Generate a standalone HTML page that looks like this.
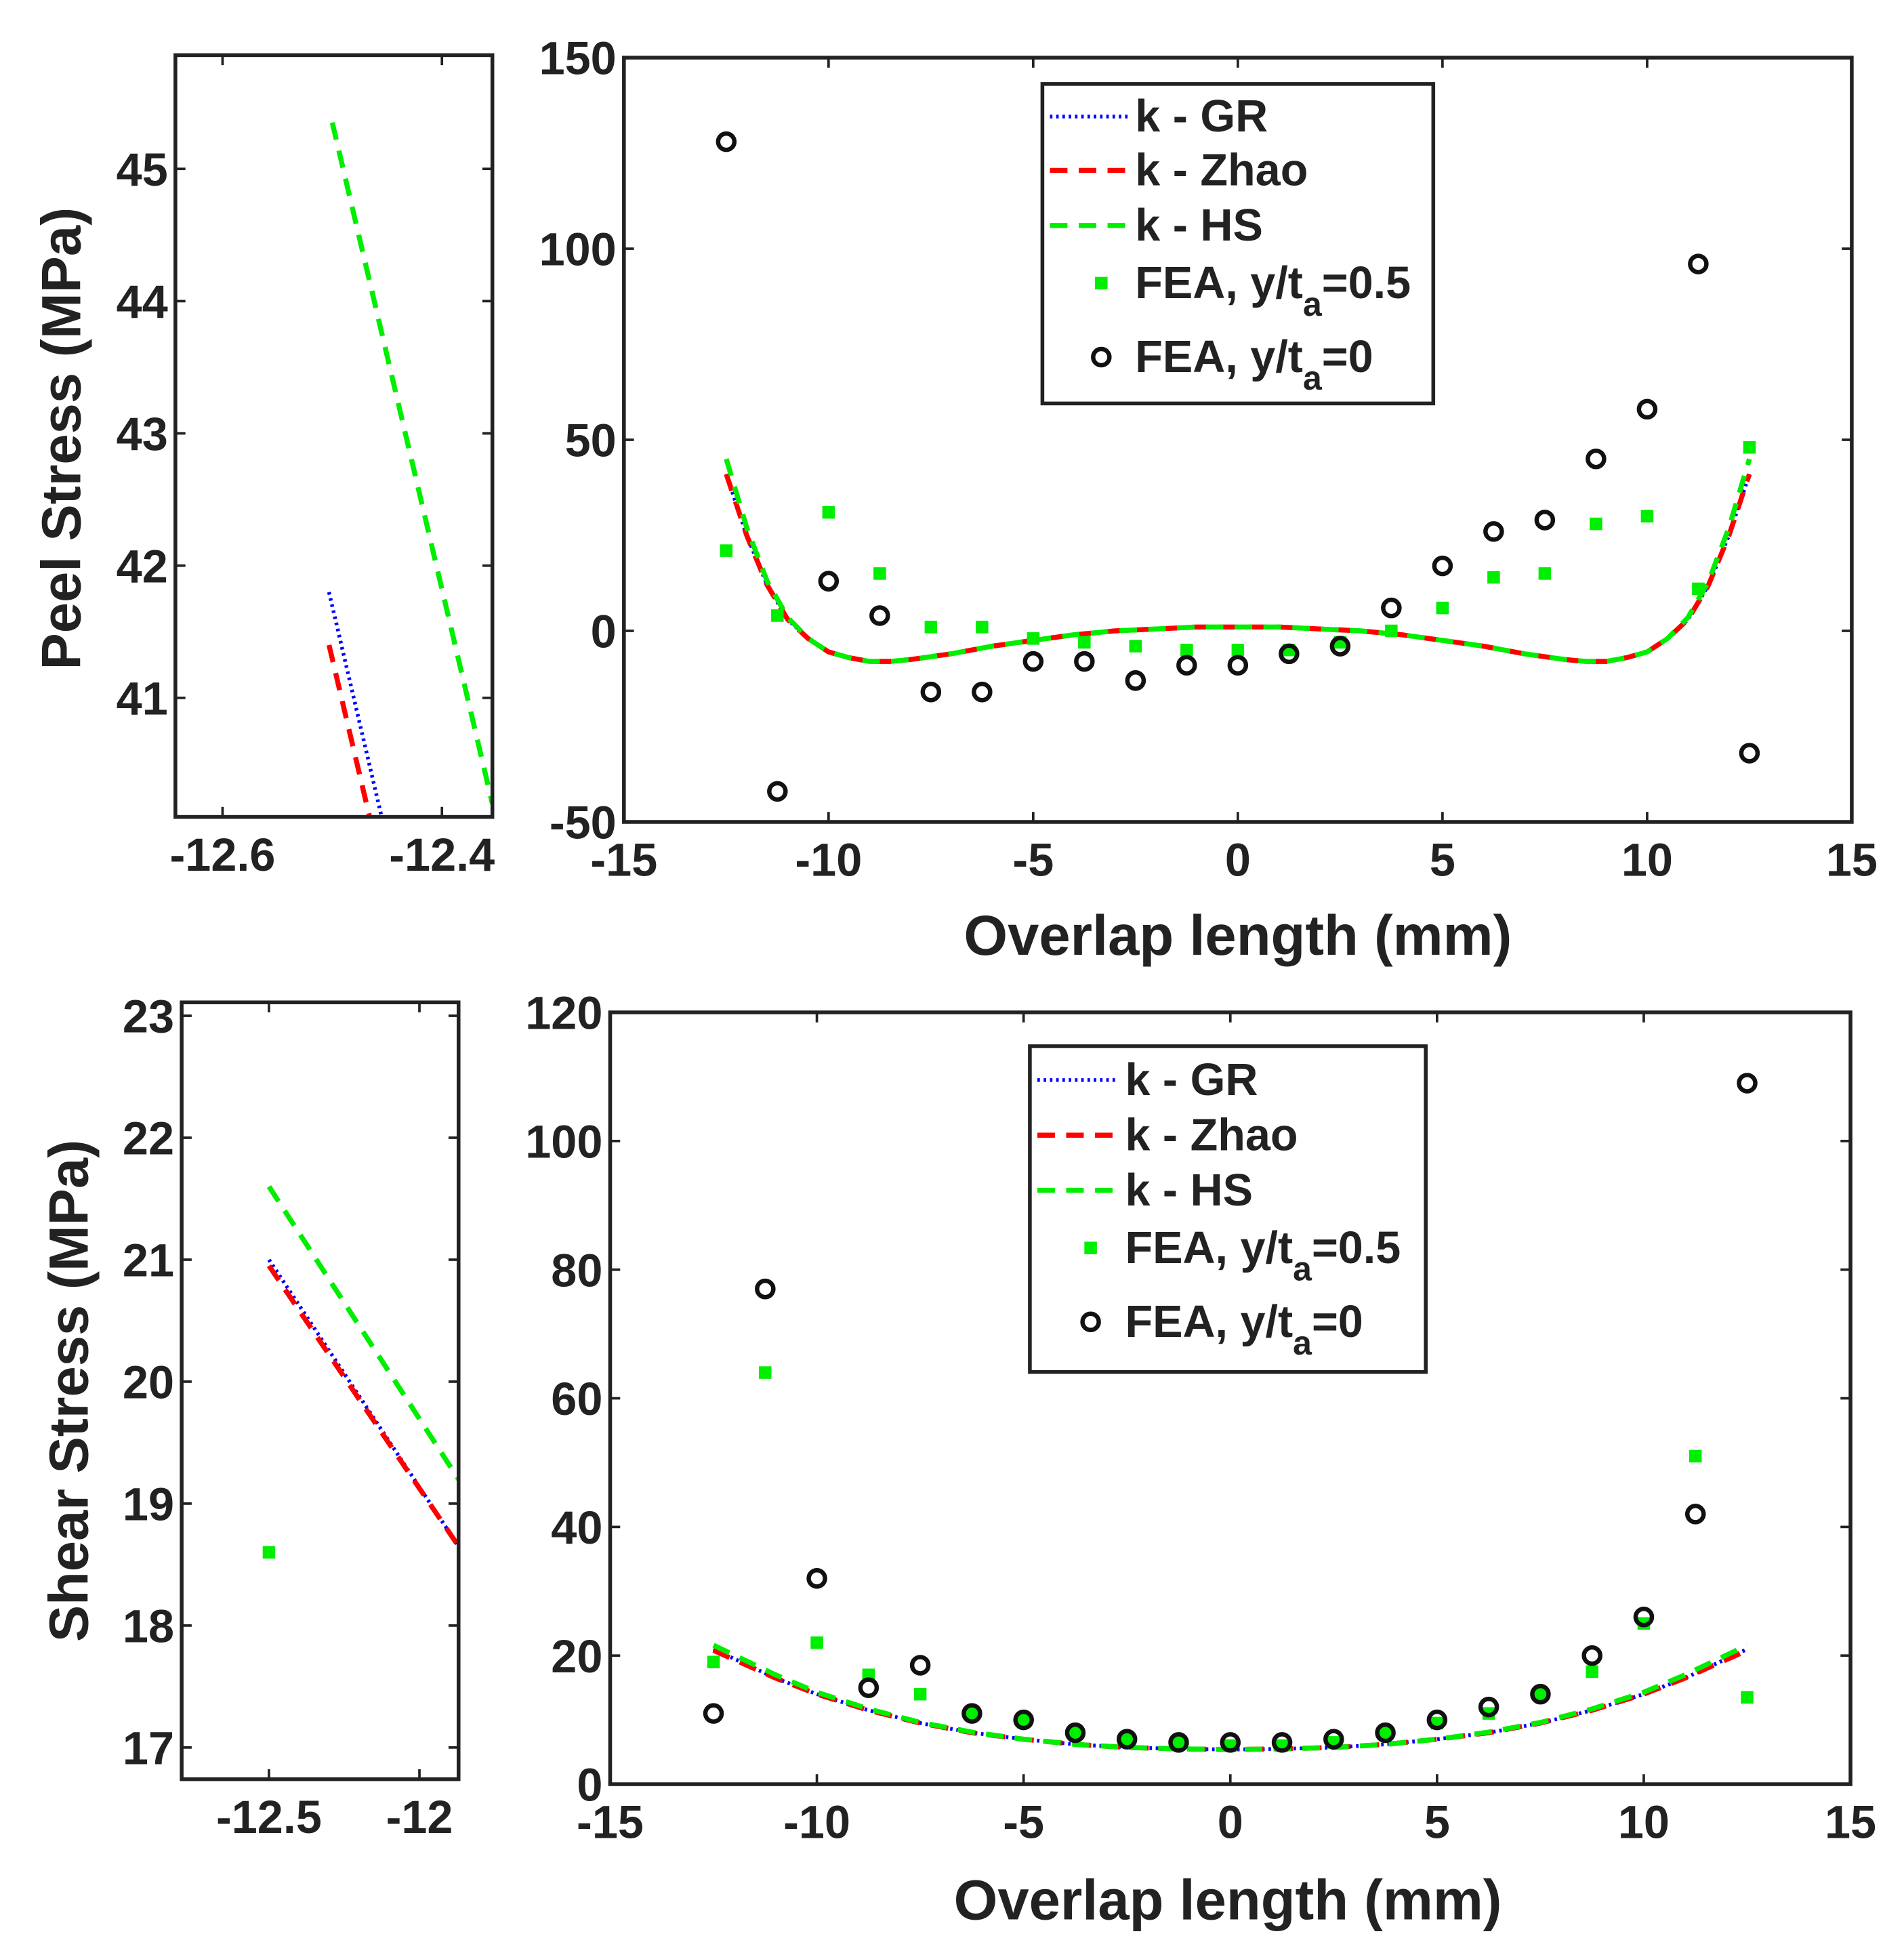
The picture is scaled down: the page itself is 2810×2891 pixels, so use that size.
<!DOCTYPE html>
<html><head><meta charset="utf-8"><style>
html,body{margin:0;padding:0;background:#fff;}
svg{display:block;font-family:"Liberation Sans",Arial,sans-serif;font-weight:bold;}
</style></head><body>
<svg id="fig" width="2810" height="2891" viewBox="0 0 1519.7 1563.5" xmlns="http://www.w3.org/2000/svg"></svg>
<script>
// ---------- data ----------
const feaX = [-12.5,-11.25,-10,-8.75,-7.5,-6.25,-5,-3.75,-2.5,-1.25,0,1.25,2.5,3.75,5,6.25,7.5,8.75,10,11.25,12.5];
const peelFea0 = [128,-42,13,4,-16,-16,-8,-8,-13,-9,-9,-6,-4,6,17,26,29,45,58,96,-32];
const peelFea05 = [21,4,31,15,1,1,-2,-3,-4,-5,-5,-5,-3,0,6,14,15,28,30,11,48];
const curveX = [-12.5,-12,-11.5,-11,-10.5,-10,-9.5,-9,-8.5,-8,-7,-6,-5,-4,-3,-2,-1,0,1,2,3,4,5,6,7,8,8.5,9,9.5,10,10.5,11,11.5,12,12.5];
const peelGR = [41,25,12,3,-2,-5.5,-7,-8,-8,-7.5,-6,-4,-2.5,-1,0,0.5,1,1,1,0.5,0,-1,-2.5,-4,-6,-7.5,-8,-8,-7,-5.5,-2,3,12,25,41];
const peelZhao = [41,25,12,3,-2,-5.5,-7,-8,-8,-7.5,-6,-4,-2.5,-1,0,0.5,1,1,1,0.5,0,-1,-2.5,-4,-6,-7.5,-8,-8,-7,-5.5,-2,3,12,25,41];
const peelHS = [45,27,13,3.5,-2,-5.5,-7,-8,-8,-7.5,-6,-4,-2.5,-1,0,0.5,1,1,1,0.5,0,-1,-2.5,-4,-6,-7.5,-8,-8,-7,-5.5,-2,3.5,13,27,45];
const shearFea0 = [11,77,32,15,18.5,11,10,8,7,6.5,6.5,6.5,7,8,10,12,14,20,26,42,109];
const shearFea05 = [19,64,22,17,14,11,10,8,7,6.5,6,6,6.5,8,9.5,11,14,17.5,25,51,13.5];
const shearCurveX = [-12.5,-11,-10,-8.75,-7.5,-6.25,-5,-3.75,-2.5,-1.25,0,1.25,2.5,3.75,5,6.25,7.5,8.75,10,11,12.5];
const shearGR = [21,16.5,14,11.5,9.5,8,7,6.2,5.7,5.5,5.4,5.5,5.7,6.2,7,8,9.5,11.5,14,16.5,21];
const shearZhao = [20.8,16.5,14,11.5,9.5,8,7,6.2,5.7,5.5,5.4,5.5,5.7,6.2,7,8,9.5,11.5,14,16.5,20.8];
const shearHS = [21.6,17,14.3,11.7,9.6,8.1,7,6.2,5.7,5.5,5.4,5.5,5.7,6.2,7,8.1,9.6,11.7,14.3,17,21.6];
// insets
const peelInsetGRx = [-12.503,-12.455]; const peelInsetGRy = [41.8,40.1];
const peelInsetZhaox = [-12.503,-12.466]; const peelInsetZhaoy = [41.4,40.1];
const peelInsetHSx = [-12.5,-12.354]; const peelInsetHSy = [45.35,40.2];
const shearInsetGRx = [-12.5,-11.87]; const shearInsetGRy = [21.0,18.65];
const shearInsetZhaox = [-12.5,-11.87]; const shearInsetZhaoy = [20.95,18.65];
const shearInsetHSx = [-12.5,-11.87]; const shearInsetHSy = [21.6,19.2];
const shearInsetFeaX = [-12.5]; const shearInsetFeaY = [18.6];
const mainXTicks = [-15,-10,-5,0,5,10,15];
const peelYTicks = [-50,0,50,100,150];
const shearYTicks = [0,20,40,60,80,100,120];
const peelInsetXTicks = [-12.6,-12.4];
const peelInsetYTicks = [41,42,43,44,45];
const shearInsetXTicks = [-12.5,-12];
const shearInsetYTicks = [17,18,19,20,21,22,23];

const NS = "http://www.w3.org/2000/svg";
const svg = document.getElementById('fig');
function mk(tag, attrs, parent){const e=document.createElementNS(NS,tag);for(const k in attrs)e.setAttribute(k,attrs[k]);(parent||svg).appendChild(e);return e;}

const STY = {
  gr:{stroke:'#0000ff','stroke-width':3,'stroke-dasharray':'2 3'},
  zhao:{stroke:'#ff0000','stroke-width':4,'stroke-dasharray':'14 9'},
  hs:{stroke:'#00ee00','stroke-width':4,'stroke-dasharray':'14 9'}
};
const FS = 37;

function axes(name, box, xr, yr, xt, yt, fs){
  const g = mk('g',{});
  
  
  const sx = v => box.x0 + (v - xr[0])/(xr[1]-xr[0])*(box.x1-box.x0);
  const sy = v => box.y1 - (v - yr[0])/(yr[1]-yr[0])*(box.y1-box.y0);
  const clip = mk('clipPath',{id:name+'-clip'},g);
  mk('rect',{x:box.x0,y:box.y0,width:box.x1-box.x0,height:box.y1-box.y0},clip);
  xt.forEach(v=>{
    const x=sx(v);
    mk('line',{x1:x,x2:x,y1:box.y1,y2:box.y1-8,stroke:'#222','stroke-width':2},g);
    mk('line',{x1:x,x2:x,y1:box.y0,y2:box.y0+8,stroke:'#222','stroke-width':2},g);
    const t=mk('text',{x:x,y:box.y1+fs+6,'text-anchor':'middle','font-size':fs,fill:'#222'},g);
    
    
    t.textContent = String(v);
  });
  yt.forEach(v=>{
    const y=sy(v);
    mk('line',{x1:box.x0,x2:box.x0+8,y1:y,y2:y,stroke:'#222','stroke-width':2},g);
    mk('line',{x1:box.x1,x2:box.x1-8,y1:y,y2:y,stroke:'#222','stroke-width':2},g);
    const t=mk('text',{x:box.x0-6,y:y+fs*0.36,'text-anchor':'end','font-size':fs,fill:'#222'},g);
    
    
    t.textContent = String(v);
  });
  const plot = mk('g',{'clip-path':'url(#'+name+'-clip)'},g);
  mk('rect',{x:box.x0,y:box.y0,width:box.x1-box.x0,height:box.y1-box.y0,fill:'none',stroke:'#222','stroke-width':3},g);
  return {g,plot,sx,sy};
}
function line(ax, xs, ys, sty, name){
  const d = xs.map((x,i)=>(i?'L':'M')+ax.sx(x).toFixed(1)+' '+ax.sy(ys[i]).toFixed(1)).join(' ');
  const p = mk('path',Object.assign({d:d,fill:'none','stroke-linecap':'butt'},sty),ax.plot);
  
  
}
function squares(ax, xs, ys, name){
  xs.forEach((x,i)=>{
    const r = mk('rect',{x:ax.sx(x)-5,y:ax.sy(ys[i])-5,width:10,height:10,fill:'#00ee00'},ax.plot);
    
    
  });
}
function circles(ax, xs, ys, name){
  xs.forEach((x,i)=>{
    const c = mk('circle',{cx:ax.sx(x),cy:ax.sy(ys[i]),r:6.5,fill:'none',stroke:'#111','stroke-width':3.5},ax.plot);
    
    
  });
}
function label(x,y,txt,fs,rot,name){
  const t = mk('text',{x:x,y:y,'text-anchor':'middle','font-size':fs,fill:'#222',transform:rot?`rotate(-90 ${x} ${y})`:''});
  
  
  t.textContent = txt;
}
function legend(box, rows, lx0, lx1, tx, name){
  const g = mk('g',{});
  
  
  mk('rect',{x:box.x0,y:box.y0,width:box.x1-box.x0,height:box.y1-box.y0,fill:'#fff',stroke:'#222','stroke-width':3},g);
  const items = [['gr','k - GR'],['zhao','k - Zhao'],['hs','k - HS'],['sq','FEA, y/t','=0.5'],['ci','FEA, y/t','=0']];
  items.forEach((it,i)=>{
    const y = rows[i];
    const mid=(lx0+lx1)/2;
    if(STY[it[0]]) mk('line',Object.assign({x1:lx0,x2:lx1,y1:y,y2:y},STY[it[0]]),g);
    else if(it[0]==='sq') mk('rect',{x:mid+5,y:y-5,width:10,height:10,fill:'#00ee00'},g);
    else mk('circle',{cx:mid+10,cy:y,r:6.5,fill:'none',stroke:'#111','stroke-width':3.5},g);
    const t = mk('text',{x:tx,y:y+12,'font-size':36,fill:'#222'},g);
    
    
    if(it[2]){
      t.appendChild(document.createTextNode(it[1]));
      const s = mk('tspan',{dy:14,'font-size':27},t); s.textContent='a';
      const s2 = mk('tspan',{dy:-14},t); s2.textContent=it[2];
    } else t.textContent = it[1];
  });
}

// ---- top inset ----
const a1 = axes('peel-inset',{x0:140,x1:393,y0:44,y1:652},[-12.643,-12.354],[40.1,45.86],peelInsetXTicks,peelInsetYTicks,FS);
line(a1,peelInsetGRx,peelInsetGRy,STY.gr,'inset-gr-line');
line(a1,peelInsetZhaox,peelInsetZhaoy,STY.zhao,'inset-zhao-line');
line(a1,peelInsetHSx,peelInsetHSy,STY.hs,'inset-hs-line');
label(64,350,'Peel Stress (MPa)',44,true,'peel-y-axis-title');

// ---- top main ----
const a2 = axes('peel-main',{x0:498,x1:1478,y0:46,y1:656},[-15,15],[-50,150],mainXTicks,peelYTicks,FS);
line(a2,curveX,peelGR,STY.gr,'peel-gr-line');
line(a2,curveX,peelZhao,STY.zhao,'peel-zhao-line');
line(a2,curveX,peelHS,STY.hs,'peel-hs-line');
squares(a2,feaX,peelFea05,'peel-fea-05');
circles(a2,feaX,peelFea0,'peel-fea-0');
label(988,762,'Overlap length (mm)',45,false,'peel-x-axis-title');
legend({x0:832,x1:1144,y0:67,y1:322},[93,136,180,226,285],838,900,906,'peel-legend');

// ---- bottom inset ----
const a3 = axes('shear-inset',{x0:145,x1:366,y0:800,y1:1420},[-12.79,-11.87],[16.74,23.11],shearInsetXTicks,shearInsetYTicks,FS);
line(a3,shearInsetGRx,shearInsetGRy,STY.gr,'inset-gr-line');
line(a3,shearInsetZhaox,shearInsetZhaoy,STY.zhao,'inset-zhao-line');
line(a3,shearInsetHSx,shearInsetHSy,STY.hs,'inset-hs-line');
squares(a3,shearInsetFeaX,shearInsetFeaY,'inset-fea-05');
label(70,1110,'Shear Stress (MPa)',44,true,'shear-y-axis-title');

// ---- bottom main ----
const a4 = axes('shear-main',{x0:487,x1:1477,y0:808,y1:1424},[-15,15],[0,120],mainXTicks,shearYTicks,FS);
line(a4,shearCurveX,shearGR,STY.gr,'shear-gr-line');
line(a4,shearCurveX,shearZhao,STY.zhao,'shear-zhao-line');
line(a4,shearCurveX,shearHS,STY.hs,'shear-hs-line');
squares(a4,feaX,shearFea05,'shear-fea-05');
circles(a4,feaX,shearFea0,'shear-fea-0');
label(980,1532,'Overlap length (mm)',45,false,'shear-x-axis-title');
legend({x0:822,x1:1138,y0:835,y1:1095},[862,906,950,996,1055],828,893,898,'shear-legend');
</script>
</body></html>
